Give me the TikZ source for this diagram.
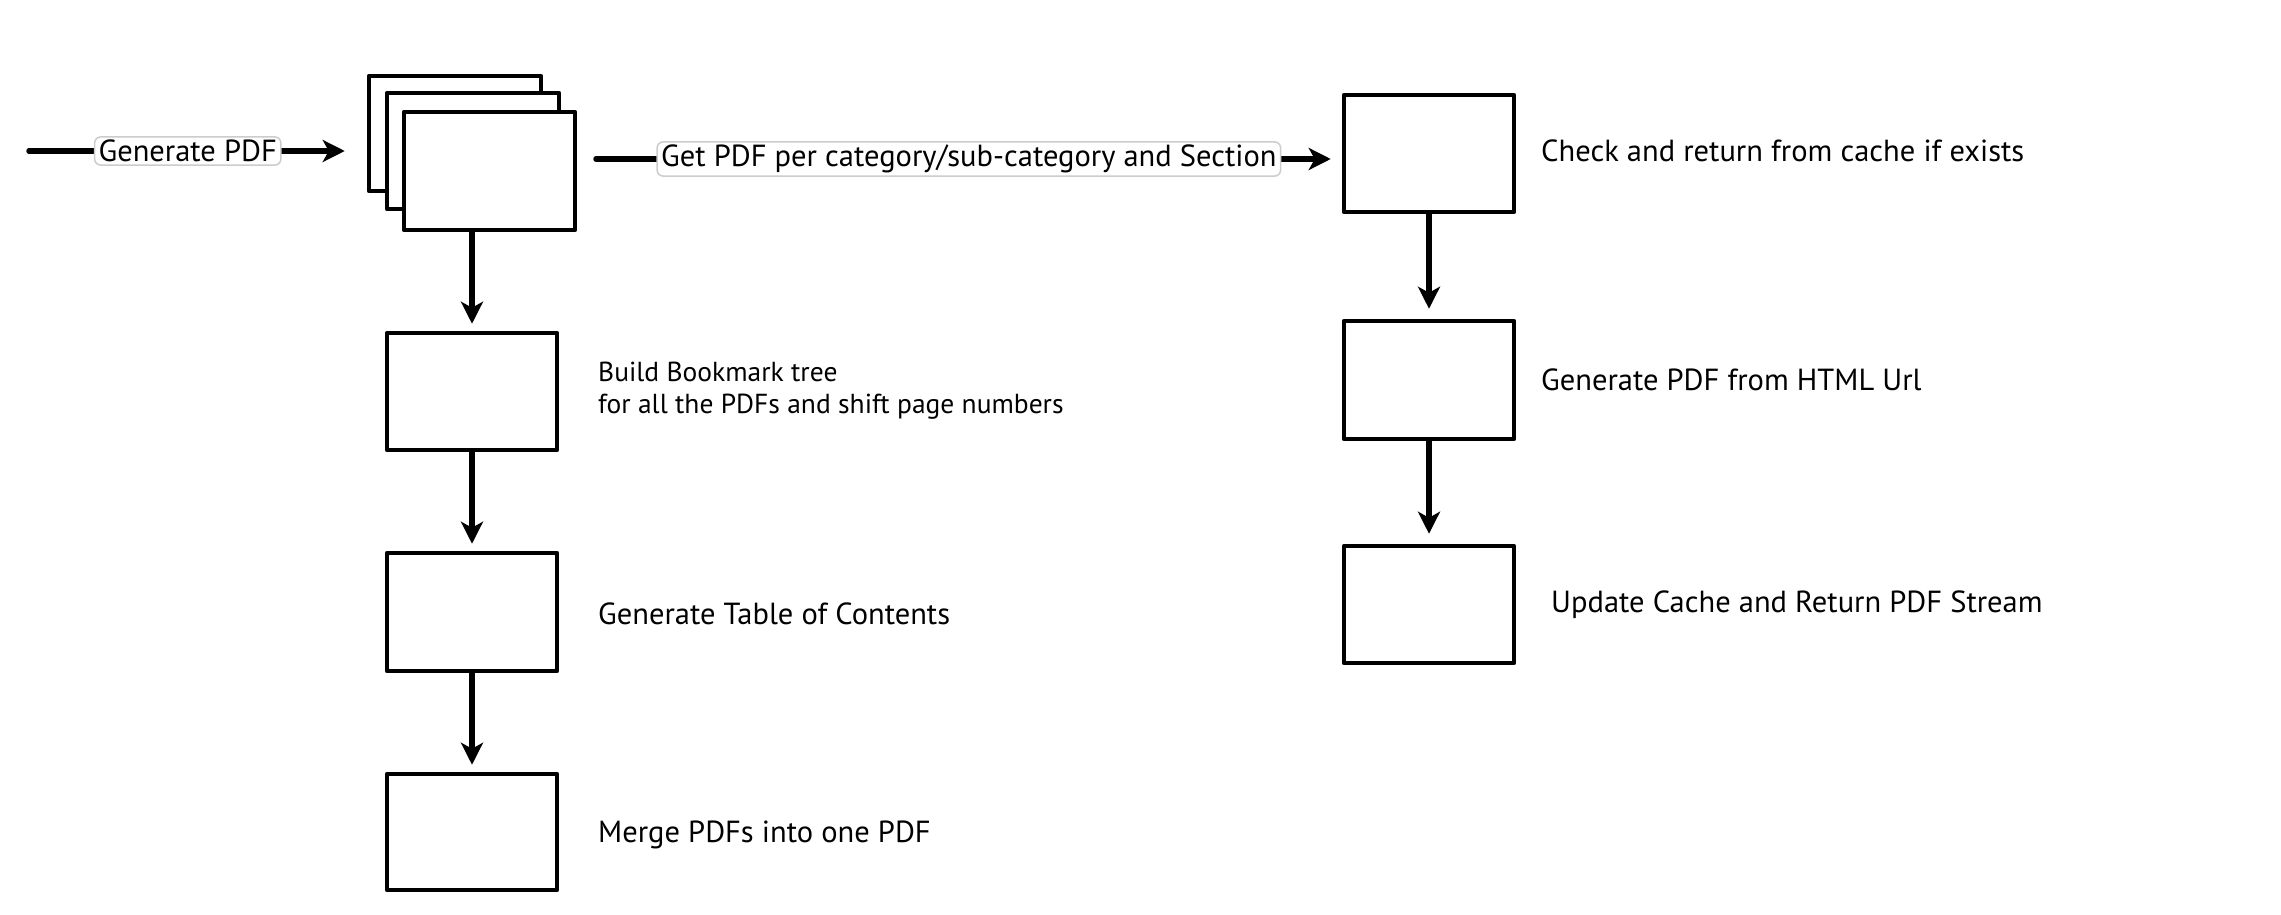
\documentclass[tikz,border=0pt]{standalone}
\usepackage{fontspec}
\setmainfont{PT Sans}
\usetikzlibrary{arrows.meta}
\tikzset{
  box/.style={draw=black, line width=4.5pt, fill=white, rectangle, inner sep=0pt, line join=round},
  conn/.style={line width=5.5pt, line cap=round, -{Stealth[length=22pt,width=22pt,inset=6pt]}},
  lbl/.style={draw=black!20, line width=1.5pt, fill=white, rounded corners=6pt, inner xsep=4pt, inner ysep=3pt, font=\fontsize{30.5}{34}\selectfont, text=black},
  txt/.style={anchor=west, inner sep=0pt, font=\fontsize{30.5}{34}\selectfont, text=black},
  stxt/.style={anchor=west, inner sep=0pt, align=left, font=\fontsize{27.5}{32}\selectfont, text=black}
}
\begin{document}
\begin{tikzpicture}[x=1pt,y=-1pt]
\useasboundingbox (0,0) rectangle (2281,915);
% stacked boxes
\node[box, minimum width=172pt, minimum height=115pt] (back) at (455,133.5) {};
\node[box, minimum width=172pt, minimum height=116pt] (mid) at (473,151) {};
\node[box, minimum width=171pt, minimum height=118pt] (front) at (489.5,171) {};
% left column
\node[box, minimum width=170pt, minimum height=117pt] (a) at (472,391.5) {};
\node[box, minimum width=170pt, minimum height=118pt] (b) at (472,612) {};
\node[box, minimum width=170pt, minimum height=116pt] (c) at (472,832) {};
% right column
\node[box, minimum width=170pt, minimum height=117pt] (r1) at (1429,153.5) {};
\node[box, minimum width=170pt, minimum height=118pt] (r2) at (1429,380) {};
\node[box, minimum width=170pt, minimum height=117pt] (r3) at (1429,604.5) {};
% texts
\node[txt] (t1) at (1541,151) {Check and return from cache if exists};
\node[txt] (t2) at (1541,380) {Generate PDF from HTML Url};
\node[txt] (t3) at (1551,605) {Update Cache and Return PDF Stream};
\node[stxt] (ta) at (598,391) {Build Bookmark tree\\for all the PDFs and shift page numbers};
\node[txt] (tb) at (598,614) {Generate Table of Contents};
\node[txt] (tc) at (598,835) {Merge PDFs into one PDF};
% connectors
\coordinate (in) at (29,151);
\draw[conn, shorten >=22pt] (in) -- (in -| back.west) node[lbl, pos=0.47] {Generate PDF};
\coordinate (o1) at (596,159);
\draw[conn, shorten >=11pt] (o1) -- (o1 -| r1.west) node[lbl, midway] {Get PDF per category/sub-category and Section};
\draw[conn, shorten >=7pt] (a.north |- front.south) -- (a.north);
\draw[conn, shorten >=7pt] (a.south) -- (b.north);
\draw[conn, shorten >=7pt] (b.south) -- (c.north);
\draw[conn, shorten >=10pt] (r1.south) -- (r2.north);
\draw[conn, shorten >=10pt] (r2.south) -- (r3.north);
\end{tikzpicture}
\end{document}
